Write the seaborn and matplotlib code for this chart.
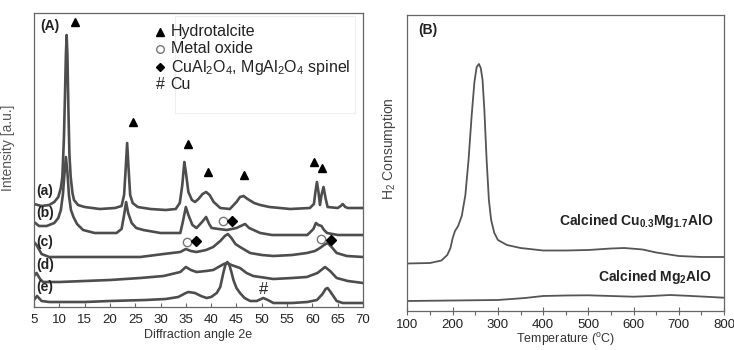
import numpy as np
import pandas as pd
import matplotlib
matplotlib.use("Agg")
import matplotlib.pyplot as plt
import seaborn as sns

# ---------------- data: XRD (panel A) ----------------
a_x = [5.0, 6.5, 8.0, 9.0, 9.8, 10.3, 10.6, 10.9, 11.1, 11.3, 11.45, 11.6, 11.8, 12.0, 12.25, 12.6, 12.9, 13.7,
       15, 18, 21, 22.3, 22.8, 23.1, 23.4, 23.7, 24.0, 24.5, 25.5, 28, 31, 33, 33.8, 34.3, 34.7, 35.0, 35.5,
       36.2, 36.8, 37.5, 38.3, 39.0, 39.7, 40.5, 41.8, 43.7, 45.0, 45.7, 46.4, 47.2, 48.5, 49.7, 51.5, 53.6,
       55.6, 59.5, 60.3, 60.6, 60.9, 61.2, 61.5, 61.8, 62.2, 62.6, 63.0, 65.0, 65.6, 66.0, 66.5, 67, 70]
a_y = [103, 101, 102, 105, 110, 119, 130, 167, 207, 252, 272, 252, 197, 152, 130, 114, 107, 102,
       100, 98, 99, 101, 112, 137, 164, 137, 112, 104, 100, 98, 97, 98, 104, 122, 145, 135, 115,
       107, 105, 108, 113, 115, 112, 105, 99, 98, 105, 110, 111, 108, 104, 102, 100, 99,
       98, 99, 103, 115, 125, 115, 102, 112, 120, 109, 100, 99, 101, 103, 100, 99, 99]

b_x = [5.0, 6, 7.5, 9.0, 9.8, 10.3, 10.7, 11.0, 11.3, 11.6, 11.9, 12.3, 12.8, 13.5, 14.7, 17, 21.3, 22.3,
       22.8, 23.2, 23.6, 24.3, 25.2, 26.6, 30, 33.9, 34.4, 35.0, 35.5, 36.3, 37.1, 38.2, 39.0, 39.6, 40.1,
       41.5, 43.1, 45, 46.7, 47.5, 49.7, 52, 59, 60.2, 60.7, 61.2, 61.8, 62.3, 62.9, 65, 70]
b_y = [85, 81, 81, 84, 89, 97, 112, 132, 150, 135, 112, 97, 90, 83, 77, 74, 74, 78,
       92, 105, 94, 84, 79, 77, 74, 74, 85, 100, 92, 82, 79, 85, 90, 83, 79,
       78, 77, 79, 83, 79, 74, 72, 72, 78, 84, 82, 81, 77, 74, 72, 72]

c_x = [5.0, 5.5, 6.5, 8, 15, 26, 30.6, 33.9, 35.0, 36.0, 37.1, 39, 40.4, 41.8, 42.7, 43.3, 44.0, 44.8,
       45.7, 47.7, 50, 52.3, 56, 58.9, 60.5, 61.5, 62.3, 63.0, 63.8, 64.8, 66.8, 70]
c_y = [65, 62, 53, 50, 50, 50, 53, 55, 58, 56, 55, 57, 60, 66, 71, 73, 69, 63,
       60, 54, 52, 51, 52, 54, 56, 59, 62, 64, 60, 54, 51, 50]

d_x = [5.0, 5.5, 6.2, 6.8, 10, 15, 20, 26, 30.6, 33.9, 35.0, 36.0, 37.1, 39, 40.4, 41.8, 42.5, 43.2,
       44.0, 45.7, 47.0, 48.3, 52.3, 56, 58.9, 61, 62.5, 63.5, 64.8, 67, 70]
d_y = [31, 34, 28, 25, 25, 26, 27, 29, 31, 35, 40, 37, 35, 36, 37, 41, 43, 44,
       42, 39, 34, 31, 28, 29, 30, 34, 40, 36, 29, 26, 24]

e_x = [5.0, 5.6, 6.5, 8, 15, 20, 27, 31, 33.5, 35.0, 35.5, 36.8, 38, 39.1, 40.0, 41.1, 41.8, 42.4, 42.8,
       43.2, 43.6, 44.0, 44.4, 45.0, 45.7, 46.6, 47.7, 49.0, 50.3, 51.2, 52.3, 56, 59, 60.9, 62.0, 62.6,
       63.0, 63.6, 64.4, 64.8, 66, 70]
e_y = [7, 11, 6, 5, 5, 6, 7, 8, 10, 14, 15, 14, 11, 9, 10, 14, 20, 34, 42,
       45, 42, 35, 27, 19, 14, 9, 6, 6, 9, 7, 4, 4, 5, 7, 13, 18,
       19, 15, 9, 6, 4, 4]

curve_labels = ["(a)", "(b)", "(c)", "(d)", "(e)"]
curve_label_y = [116, 94, 65, 42, 20]

# phase markers (2theta, intensity)
tri_x = [13.1, 24.6, 35.5, 39.4, 46.4, 60.3, 61.9]
tri_y = [285, 185, 163, 135, 132, 145, 139]
circ_x = [42.3, 35.2, 61.7]
circ_y = [86, 65, 68]
dia_x = [44.1, 37.0, 63.6]
dia_y = [86, 66, 67]
hash_x = [50.3]
hash_y = [18]

xrd_ticks = list(range(5, 71, 5))

# ---------------- data: TPR (panel B) ----------------
cu_t = [100, 150, 175, 188, 195, 200, 205, 212, 220, 228, 235, 242, 248, 253, 258, 262, 266, 270, 275,
        280, 285, 292, 300, 320, 350, 400, 450, 500, 550, 580, 620, 650, 700, 750, 800]
cu_h = [47.5, 48, 50.5, 56, 63, 73, 80, 85, 95, 116, 151, 196, 229, 244, 247, 243, 231, 201, 151,
        111, 91, 78, 71, 66, 63, 60.5, 60.5, 61, 62.5, 63, 61.5, 58.5, 55, 54, 54]
mg_t = [100, 200, 300, 360, 400, 450, 500, 550, 600, 640, 680, 720, 800]
mg_h = [10, 10.5, 11, 13, 15, 15.5, 15.7, 15, 14.3, 15, 16, 15.2, 13.3]
tpr_ticks = list(range(100, 801, 100))

# ---------------- style ----------------
sns.set_theme(style="white")
plt.rcParams['font.family'] = ['Liberation Sans', 'DejaVu Sans']
plt.rcParams['mathtext.fontset'] = 'custom'
plt.rcParams['mathtext.rm'] = 'Liberation Sans'
plt.rcParams['mathtext.it'] = 'Liberation Sans'
plt.rcParams['mathtext.bf'] = 'Liberation Sans:bold'
plt.rcParams['mathtext.default'] = 'regular'

line_col = '#4d4d4d'
text_col = '#222222'
spine_col = '#666666'

fig = plt.figure(figsize=(7.34, 3.5), dpi=100)
axA = fig.add_axes([34/734, 43/350, 329/734, 294/350])
axB = fig.add_axes([407.5/734, 39/350, 316.5/734, 296/350])

# Panel A curves
for xs, ys in [(a_x, a_y), (b_x, b_y), (c_x, c_y), (d_x, d_y), (e_x, e_y)]:
    sns.lineplot(x=xs, y=ys, ax=axA, color=line_col, lw=1.9, sort=False, estimator=None)

axA.set_xlim(5, 70)
axA.set_ylim(0, 294)
axA.set_xticks(xrd_ticks)
axA.set_yticks([])
axA.tick_params(axis='x', direction='in', length=3, width=0.8, color=spine_col,
                labelsize=9.5, labelcolor=text_col, pad=5, bottom=True)
axA.set_xlabel('Diffraction angle 2e', fontsize=9, color='#333333', labelpad=2)
axA.set_ylabel('Intensity [a.u.]', fontsize=10, color='#555555')
axA.yaxis.set_label_coords(-0.058, 0.54)
for s in axA.spines.values():
    s.set_color(spine_col)
    s.set_linewidth(0.9)

axA.plot(tri_x, tri_y, ls='none', marker='^', ms=6, color='black')
axA.plot(circ_x, circ_y, ls='none', marker='o', ms=6, mfc='white', mec='#777777', mew=1.0)
axA.plot(dia_x, dia_y, ls='none', marker='D', ms=5, color='black')
for hx, hy in zip(hash_x, hash_y):
    axA.text(hx, hy, '#', fontsize=12, ha='center', va='center', color='#222222')

for lab, ly in zip(curve_labels, curve_label_y):
    axA.text(0.008, ly, lab, transform=axA.get_yaxis_transform(), fontsize=10,
             fontweight='bold', color=text_col, ha='left', va='center')

axA.text(0.018, 0.955, '(A)', transform=axA.transAxes, fontsize=10, fontweight='bold',
         color=text_col, ha='left', va='center')

# legend (manual)
axA.add_patch(plt.Rectangle((0.43, 0.66), 0.545, 0.33, transform=axA.transAxes,
                            fill=False, ec='#eeeeee', lw=0.8))
leg_rows = [0.937, 0.878, 0.816, 0.758]
leg_mx = 0.383
leg_tx = 0.415
axA.plot([leg_mx], [leg_rows[0]], transform=axA.transAxes, marker='^', ms=5.5, color='black', ls='none')
axA.plot([leg_mx], [leg_rows[1]], transform=axA.transAxes, marker='o', ms=5.5, mfc='white',
         mec='#777777', mew=1.0, ls='none')
axA.plot([leg_mx], [leg_rows[2]], transform=axA.transAxes, marker='D', ms=4.5, color='black', ls='none')
axA.text(leg_mx - 0.012, leg_rows[3], '#', transform=axA.transAxes, fontsize=11.5, ha='left',
         va='center', color='#222222')
leg_texts = ['Hydrotalcite', 'Metal oxide', 'CuAl$_2$O$_4$, MgAl$_2$O$_4$ spinel', 'Cu']
for t, ry in zip(leg_texts, leg_rows):
    axA.text(leg_tx, ry, t, transform=axA.transAxes, fontsize=11.5, ha='left', va='center',
             color=text_col)

# Panel B curves
sns.lineplot(x=cu_t, y=cu_h, ax=axB, color='#555555', lw=1.3, sort=False, estimator=None)
sns.lineplot(x=mg_t, y=mg_h, ax=axB, color='#555555', lw=1.3, sort=False, estimator=None)
axB.set_xlim(100, 800)
axB.set_ylim(0, 296)
axB.set_xticks(tpr_ticks)
axB.set_xticks(list(range(150, 800, 100)), minor=True)
axB.set_yticks([])
axB.tick_params(axis='x', which='major', direction='inout', length=6, width=0.8, color=spine_col,
                labelsize=9.5, labelcolor=text_col, pad=3, bottom=True)
axB.tick_params(axis='x', which='minor', direction='out', length=3, width=0.8, color=spine_col,
                bottom=True)
axB.set_xlabel('Temperature ($^o$C)', fontsize=9, color='#333333', labelpad=0)
axB.set_ylabel('H$_2$ Consumption', fontsize=10, color='#444444')
axB.yaxis.set_label_coords(-0.03, 0.55)
for s in axB.spines.values():
    s.set_color(spine_col)
    s.set_linewidth(0.9)

axB.text(0.035, 0.95, '(B)', transform=axB.transAxes, fontsize=10, fontweight='bold',
         color=text_col, ha='left', va='center')
axB.text(776, 90, r'Calcined Cu$_\mathbf{0.3}$Mg$_\mathbf{1.7}$AlO', fontsize=10, fontweight='bold',
         color=text_col, ha='right', va='center')
axB.text(774, 34, r'Calcined Mg$_\mathbf{2}$AlO', fontsize=10, fontweight='bold',
         color=text_col, ha='right', va='center')

fig.savefig('out.png', dpi=100)
